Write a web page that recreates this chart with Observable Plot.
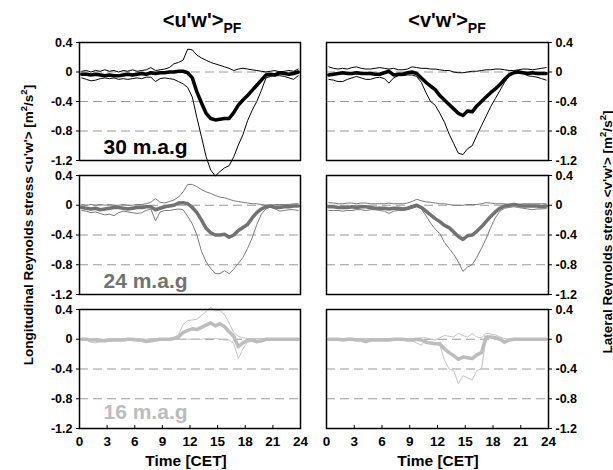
<!DOCTYPE html>
<html><head><meta charset="utf-8">
<script src="https://cdn.jsdelivr.net/npm/d3@7"></script>
<script src="https://cdn.jsdelivr.net/npm/@observablehq/plot@0.6"></script>
<style>
body{margin:0;background:#fff;}
#wrap{position:relative;width:613px;height:470px;background:#fff;font-family:"Liberation Sans",Arial,sans-serif;font-weight:bold;color:#000;overflow:hidden;}
#wrap svg{position:absolute;left:0;top:0;overflow:visible;}
#wrap svg text{font-weight:bold;}
.lbl{position:absolute;white-space:nowrap;line-height:1;}
</style></head><body><div id="wrap"></div>
<script>
// ---- data ----
const times = [0.25,0.75,1.25,1.75,2.25,2.75,3.25,3.75,4.25,4.75,5.25,5.75,6.25,6.75,7.25,7.75,8.25,8.75,9.25,9.75,
  10.25,10.75,11.25,11.75,12.25,12.75,13.25,13.75,14.25,14.75,15.25,15.75,16.25,16.75,17.25,17.75,18.25,18.75,19.25,19.75,
  20.25,20.75,21.25,21.75,22.25,22.75,23.25,23.75];
const xTicks = [0,3,6,9,12,15,18,21,24];
const yTicks = [0.4,0,-0.4,-0.8,-1.2];
const gridLines = [0,-0.4,-0.8];
const columnTitles = ["<u'w'>", "<v'w'>"];
const heightLabels = ["30 m.a.g","24 m.a.g","16 m.a.g"];

const uw30Mean = [-0.03,-0.03,-0.04,-0.03,-0.04,-0.05,-0.04,-0.05,-0.05,-0.04,-0.03,-0.04,-0.03,-0.02,-0.03,-0.01,-0.02,-0.01,-0.01,0.0,
  0.0,0.01,0.01,-0.01,-0.08,-0.27,-0.42,-0.56,-0.63,-0.65,-0.64,-0.63,-0.63,-0.55,-0.45,-0.38,-0.32,-0.25,-0.18,-0.11,-0.04,-0.03,-0.04,-0.01,-0.02,-0.03,-0.02,0.0];
const uw30Max = [0.01,0.02,0.0,0.02,0.01,0.03,0.01,0.02,0.0,0.02,0.01,0.03,0.01,0.02,0.03,0.06,0.02,0.03,0.04,0.06,
  0.11,0.13,0.16,0.31,0.30,0.23,0.19,0.16,0.13,0.11,0.09,0.07,0.05,0.02,0.04,0.05,0.04,0.03,0.02,0.01,0.0,0.01,0.02,0.0,0.01,0.02,0.01,0.04];
const uw30Min = [-0.08,-0.10,-0.12,-0.11,-0.09,-0.08,-0.09,-0.08,-0.10,-0.09,-0.10,-0.09,-0.08,-0.09,-0.07,-0.07,-0.13,-0.09,-0.08,-0.09,
  -0.10,-0.13,-0.16,-0.21,-0.34,-0.62,-0.88,-1.15,-1.33,-1.41,-1.35,-1.30,-1.27,-1.15,-0.99,-0.85,-0.66,-0.52,-0.40,-0.25,-0.08,-0.06,-0.05,-0.05,-0.06,-0.08,-0.10,-0.05];

const vw30Mean = [-0.04,-0.03,-0.02,-0.01,-0.02,-0.02,-0.01,-0.02,-0.02,-0.02,-0.03,-0.03,-0.01,0.01,-0.04,-0.03,-0.03,-0.01,0.0,-0.02,
  -0.08,-0.14,-0.19,-0.24,-0.32,-0.38,-0.44,-0.50,-0.56,-0.59,-0.53,-0.54,-0.46,-0.40,-0.34,-0.28,-0.23,-0.17,-0.10,-0.04,-0.01,0.0,-0.01,-0.02,-0.01,-0.02,-0.02,-0.02];
const vw30Max = [0.07,0.05,0.04,0.05,0.04,0.06,0.07,0.05,0.04,0.04,0.05,0.06,0.05,0.04,0.05,0.03,0.03,0.04,0.07,0.06,
  0.05,0.05,0.04,0.04,0.03,0.02,0.02,0.0,-0.01,-0.01,0.0,0.01,0.01,0.02,0.03,0.03,0.04,0.04,0.03,0.02,0.02,0.03,0.04,0.04,0.03,0.04,0.05,0.06];
const vw30Min = [-0.10,-0.11,-0.13,-0.13,-0.10,-0.08,-0.06,-0.08,-0.10,-0.10,-0.08,-0.07,-0.09,-0.15,-0.08,-0.05,-0.05,-0.04,-0.04,-0.06,
  -0.14,-0.28,-0.40,-0.45,-0.56,-0.68,-0.84,-0.97,-1.10,-1.12,-1.04,-1.00,-0.86,-0.73,-0.60,-0.47,-0.36,-0.25,-0.14,-0.05,0.0,0.02,-0.02,-0.05,-0.06,-0.07,-0.09,-0.11];

const uw24Mean = [-0.03,-0.04,-0.05,-0.04,-0.06,-0.05,-0.04,-0.03,-0.03,-0.04,-0.05,-0.04,-0.03,-0.03,-0.02,-0.02,-0.06,-0.04,-0.02,-0.01,
  0.0,0.03,0.035,0.02,-0.03,-0.10,-0.20,-0.31,-0.37,-0.40,-0.40,-0.39,-0.43,-0.40,-0.34,-0.30,-0.26,-0.17,-0.10,-0.05,-0.02,-0.01,-0.03,-0.03,-0.02,-0.02,-0.01,-0.01];
const uw24Max = [0.01,0.0,0.01,0.0,0.01,0.0,0.01,0.0,0.0,0.01,0.0,0.0,0.01,0.01,0.02,0.04,0.09,0.04,0.03,0.05,
  0.07,0.11,0.18,0.28,0.28,0.25,0.21,0.18,0.16,0.13,0.11,0.10,0.08,0.06,0.05,0.04,0.03,0.02,0.02,0.01,0.0,0.0,0.01,0.01,0.01,0.01,0.02,0.02];
const uw24Min = [-0.07,-0.08,-0.10,-0.09,-0.11,-0.13,-0.12,-0.14,-0.10,-0.08,-0.09,-0.10,-0.11,-0.10,-0.07,-0.05,-0.21,-0.09,-0.07,-0.07,
  -0.06,-0.05,-0.06,-0.15,-0.25,-0.40,-0.62,-0.76,-0.85,-0.92,-0.92,-0.88,-0.92,-0.86,-0.78,-0.70,-0.58,-0.44,-0.26,-0.12,-0.05,-0.02,-0.05,-0.08,-0.07,-0.06,-0.06,-0.07];

const vw24Mean = [-0.02,-0.02,-0.03,-0.03,-0.03,-0.02,-0.03,-0.02,-0.02,-0.03,-0.04,-0.04,-0.04,-0.05,-0.04,-0.04,-0.05,-0.04,-0.02,0.0,
  -0.03,-0.08,-0.13,-0.18,-0.22,-0.27,-0.30,-0.36,-0.42,-0.46,-0.41,-0.40,-0.35,-0.29,-0.22,-0.15,-0.09,-0.04,-0.01,0.0,0.01,0.0,-0.01,-0.01,-0.01,-0.01,-0.02,-0.01];
const vw24Max = [0.035,0.03,0.02,0.02,0.03,0.03,0.02,0.03,0.03,0.02,0.02,0.02,0.02,0.03,0.02,0.02,0.02,0.03,0.05,0.08,
  0.06,0.045,0.04,0.03,0.02,0.02,0.01,0.0,0.0,0.0,0.01,0.01,0.01,0.02,0.035,0.03,0.02,0.02,0.02,0.01,0.01,0.01,0.02,0.02,0.02,0.02,0.02,0.02];
const vw24Min = [-0.07,-0.07,-0.07,-0.08,-0.07,-0.07,-0.06,-0.06,-0.07,-0.06,-0.06,-0.07,-0.08,-0.11,-0.08,-0.07,-0.07,-0.06,-0.04,-0.02,
  -0.05,-0.14,-0.24,-0.32,-0.38,-0.50,-0.58,-0.66,-0.76,-0.89,-0.83,-0.80,-0.70,-0.58,-0.45,-0.30,-0.17,-0.08,-0.04,-0.03,-0.02,-0.03,-0.04,-0.05,-0.06,-0.05,-0.05,-0.045];

const uw16Mean = [0.0,0.0,-0.01,-0.01,-0.02,-0.02,-0.01,-0.01,-0.01,-0.01,0.0,0.0,-0.01,-0.01,-0.03,-0.02,-0.01,0.0,0.0,0.0,
  0.01,0.03,0.09,0.12,0.14,0.13,0.16,0.19,0.22,0.18,0.21,0.17,0.10,0.04,-0.10,-0.05,-0.01,-0.01,-0.03,-0.02,0.0,0.0,0.0,0.0,0.0,0.0,0.0,0.0];
const uw16Max = [0.01,0.01,0.0,0.01,0.0,0.0,0.01,0.01,0.01,0.0,0.01,0.01,0.01,0.0,0.0,0.01,0.01,0.0,0.01,0.01,
  0.02,0.06,0.20,0.25,0.26,0.27,0.32,0.37,0.43,0.38,0.39,0.33,0.22,0.09,0.04,0.02,0.01,0.01,0.01,0.01,0.01,0.01,0.01,0.01,0.01,0.01,0.01,0.01];
const uw16Min = [-0.01,-0.01,-0.04,-0.05,-0.03,-0.02,-0.03,-0.02,-0.02,-0.01,-0.01,-0.02,-0.02,-0.03,-0.04,-0.02,-0.01,-0.01,-0.01,-0.01,
  0.0,0.0,0.0,0.0,0.0,0.0,0.0,0.01,0.01,0.01,0.0,-0.01,-0.01,-0.06,-0.26,-0.13,-0.04,-0.03,-0.05,-0.03,-0.01,-0.01,-0.01,-0.01,-0.01,-0.01,-0.01,-0.01];

const vw16Mean = [0.0,0.0,0.0,-0.01,0.0,0.0,-0.01,-0.01,-0.03,-0.01,-0.01,-0.01,-0.01,-0.01,0.0,0.0,0.0,-0.01,-0.01,0.0,
  -0.01,-0.04,-0.05,-0.06,-0.06,-0.13,-0.18,-0.22,-0.27,-0.24,-0.25,-0.26,-0.21,-0.18,0.03,0.03,0.02,0.0,-0.04,-0.01,0.0,0.0,0.0,0.0,0.0,0.0,0.0,0.0];
const vw16Max = [0.01,0.01,0.01,0.01,0.01,0.01,0.01,0.01,0.01,0.01,0.01,0.01,0.01,0.01,0.01,0.01,0.01,0.01,0.01,0.01,
  0.02,0.02,0.0,-0.01,0.02,0.05,0.04,0.03,0.08,0.05,0.03,0.08,0.03,0.02,0.08,0.07,0.06,0.03,0.01,0.0,0.01,0.01,0.01,0.01,0.01,0.01,0.01,0.01];
const vw16Min = [-0.01,-0.01,-0.01,-0.01,-0.01,-0.01,-0.01,-0.01,-0.01,-0.01,-0.01,-0.01,-0.01,-0.01,-0.01,-0.01,-0.01,-0.02,-0.02,-0.05,
  -0.08,-0.01,-0.06,-0.07,-0.08,-0.28,-0.40,-0.42,-0.60,-0.49,-0.52,-0.55,-0.42,-0.40,0.0,0.03,0.02,0.0,-0.06,-0.01,-0.01,-0.01,-0.01,-0.01,-0.01,-0.01,-0.01,-0.01];

// ---- layout ----
const W = 613, H = 470;
const colX = [[79,300],[326,548]];
const rowY = [[42,160],[175,294],[309,428]];
const rowColor = ["#000000","#727272","#bdbdbd"];
const rowThin = ["#000000","#7a7a7a","#c4c4c4"];
const labelDy = [-7,-7,-10];

const panels = [
  {col:0,row:0,mean:uw30Mean,max:uw30Max,min:uw30Min},
  {col:1,row:0,mean:vw30Mean,max:vw30Max,min:vw30Min},
  {col:0,row:1,mean:uw24Mean,max:uw24Max,min:uw24Min},
  {col:1,row:1,mean:vw24Mean,max:vw24Max,min:vw24Min},
  {col:0,row:2,mean:uw16Mean,max:uw16Max,min:uw16Min},
  {col:1,row:2,mean:vw16Mean,max:vw16Max,min:vw16Min}
];

const wrap = document.getElementById("wrap");
const toRows = (arr, k) => times.map((t, i) => ({t, v: arr[i], k}));

for (const p of panels) {
  const [x0, x1] = colX[p.col], [y0, y1] = rowY[p.row];
  const col = rowColor[p.row];
  const thin = toRows(p.max, "max").concat(toRows(p.min, "min"));
  const marks = [
    Plot.ruleY(gridLines, {stroke: "#9a9a9a", strokeWidth: 1, strokeDasharray: "9,5"}),
    Plot.line(thin, {x: "t", y: "v", z: "k", stroke: rowThin[p.row], strokeWidth: 1}),
    Plot.line(toRows(p.mean, "mean"), {x: "t", y: "v", stroke: col, strokeWidth: 3.5}),
    Plot.frame({stroke: "#000", strokeWidth: 1.5}),
    Plot.axisY(yTicks, {anchor: p.col === 0 ? "left" : "right", tickSize: 3, tickPadding: 4,
      tickFormat: d => String(d), label: null, fontSize: 12.5, fontWeight: "bold"}),
  ];
  if (p.col === 0) {
    marks.push(Plot.text([heightLabels[p.row]], {frameAnchor: "bottom-left", text: d => d, dx: 24, dy: labelDy[p.row],
      lineAnchor: "bottom", textAnchor: "start", fill: col, fontSize: 21, fontWeight: "bold"}));
  }
  const bottom = p.row === 2;
  if (bottom) {
    marks.push(Plot.axisX(xTicks, {anchor: "bottom", tickSize: 0, tickPadding: 8, tickFormat: d => String(d), label: null, fontSize: 13.5, fontWeight: "bold"}));
    marks.push(Plot.axisX(xTicks, {anchor: "bottom", tickSize: 3, dy: -3, text: null, label: null}));
  }
  const svg = Plot.plot({
    width: W, height: H,
    marginLeft: x0, marginRight: W - x1, marginTop: y0, marginBottom: H - y1,
    x: bottom ? {domain: [0, 24]} : {domain: [0, 24], axis: null},
    y: {domain: [-1.2, 0.4]},
    marks,
    style: {fontFamily: "'Liberation Sans', Arial, sans-serif", fontSize: "12px", fontWeight: "bold",
      overflow: "visible", background: "transparent", color: "#000"}
  });
  wrap.appendChild(svg);
}

// ---- titles & axis labels (HTML text) ----
function addLabel(html, css) {
  const d = document.createElement("div");
  d.className = "lbl";
  d.innerHTML = html;
  Object.assign(d.style, css);
  wrap.appendChild(d);
}
const esc = s => s.replace(/</g, "&lt;").replace(/>/g, "&gt;");
// column titles
addLabel(`${esc(columnTitles[0])}<span style="font-size:14px;position:relative;top:6px;">PF</span>`,
  {left: "92px", width: "220px", textAlign: "center", top: "10px", fontSize: "20px"});
addLabel(`${esc(columnTitles[1])}<span style="font-size:14px;position:relative;top:6px;">PF</span>`,
  {left: "337px", width: "220px", textAlign: "center", top: "10px", fontSize: "20px"});
// x titles
addLabel("Time [CET]", {left: "86px", width: "200px", textAlign: "center", top: "453px", fontSize: "15.5px"});
addLabel("Time [CET]", {left: "338px", width: "200px", textAlign: "center", top: "453px", fontSize: "15.5px"});
// y titles (rotated)
addLabel(`Longitudinal Reynolds stress ${esc("<u'w'>")} [m<sup style="font-size:9.5px;">2</sup>/s<sup style="font-size:9.5px;">2</sup>]`,
  {left: (24 - 200) + "px", top: (225 - 8) + "px", width: "400px", height: "16px", lineHeight: "16px",
   textAlign: "center", fontSize: "13.5px", transform: "rotate(-90deg)"});
addLabel(`Lateral Reynolds stress ${esc("<v'w'>")} [m<sup style="font-size:9.5px;">2</sup>/s<sup style="font-size:9.5px;">2</sup>]`,
  {left: (603 - 200) + "px", top: (232 - 8) + "px", width: "400px", height: "16px", lineHeight: "16px",
   textAlign: "center", fontSize: "13.5px", transform: "rotate(-90deg)"});
</script></body></html>
